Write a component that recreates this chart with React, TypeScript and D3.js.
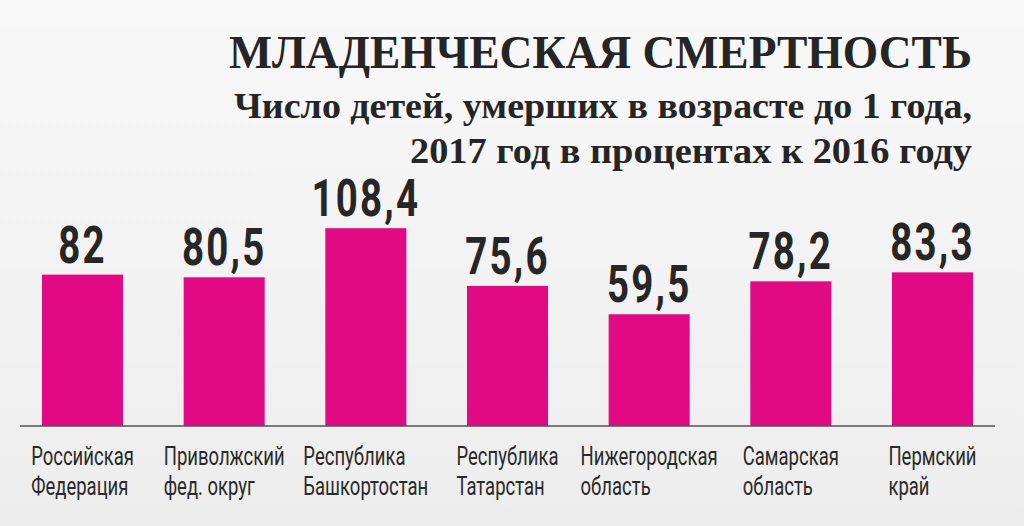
import { useRef, useEffect } from "react";
import * as d3 from "d3";

const regions = [
  ["Российская", "Федерация"],
  ["Приволжский", "фед. округ"],
  ["Республика", "Башкортостан"],
  ["Республика", "Татарстан"],
  ["Нижегородская", "область"],
  ["Самарская", "область"],
  ["Пермский", "край"],
];
const values = [82, 80.5, 108.4, 75.6, 59.5, 78.2, 83.3];
const valueLabels = ["82", "80,5", "108,4", "75,6", "59,5", "78,2", "83,3"];

const title = "МЛАДЕНЧЕСКАЯ СМЕРТНОСТЬ";
const subtitle = ["Число детей, умерших в возрасте до 1 года,", "2017 год в процентах к 2016 году"];

export default function App() {
  const ref = useRef<SVGSVGElement>(null);

  useEffect(() => {
    document.body.style.margin = "0";
    const W = 1024;
    const H = 526;
    const svg = d3.select(ref.current);
    svg.selectAll("*").remove();

    const defs = svg.append("defs");
    const grad = defs
      .append("linearGradient")
      .attr("id", "bg")
      .attr("x1", 0)
      .attr("y1", 0)
      .attr("x2", 0)
      .attr("y2", 1);
    grad.append("stop").attr("offset", "0%").attr("stop-color", "#f8f8f8");
    grad.append("stop").attr("offset", "100%").attr("stop-color", "#ededed");
    svg.append("rect").attr("width", W).attr("height", H).attr("fill", "url(#bg)");

    // headings, right aligned
    const heads = [
      { t: title, y: 68, size: 46, w: 743 },
      { t: subtitle[0], y: 118, size: 35, w: 738 },
      { t: subtitle[1], y: 163, size: 35, w: 562 },
    ];
    heads.forEach((h) => {
      svg
        .append("text")
        .attr("x", 972 - h.w)
        .attr("y", h.y)
        .attr("font-family", "'Liberation Serif', 'DejaVu Serif', serif")
        .attr("font-weight", 700)
        .attr("font-size", h.size)
        .attr("fill", "#252525")
        .attr("textLength", h.w)
        .attr("lengthAdjust", "spacingAndGlyphs")
        .text(h.t);
    });

    const baseline = 426;
    const x = d3
      .scaleBand<number>()
      .domain(d3.range(values.length))
      .range([42, 973])
      .paddingInner(0.428)
      .paddingOuter(0);
    const y = d3.scaleLinear().domain([-4, 110]).range([baseline, baseline - 1.76 * 114]);

    svg
      .append("g")
      .selectAll("rect")
      .data(values)
      .join("rect")
      .attr("x", (d, i) => x(i)!)
      .attr("y", (d) => y(d))
      .attr("width", x.bandwidth())
      .attr("height", (d) => baseline - y(d))
      .attr("fill", "#e20a84");

    svg
      .append("line")
      .attr("x1", 20)
      .attr("x2", 995)
      .attr("y1", baseline)
      .attr("y2", baseline)
      .attr("stroke", "#555")
      .attr("stroke-width", 1.5);

    // value labels, squeezed horizontally
    const sx = 0.74;
    values.forEach((v, i) => {
      const cx = x(i)! + x.bandwidth() / 2;
      svg
        .append("text")
        .attr("transform", `translate(${cx},${y(v) - 12}) scale(${sx},1)`)
        .attr("text-anchor", "middle")
        .attr("font-family", "Roboto, 'DejaVu Sans', sans-serif")
        .attr("font-weight", 700)
        .attr("font-size", 52)
        .attr("letter-spacing", 3)
        .attr("fill", "#262626")
        .text(valueLabels[i]);
    });

    // category labels: left-aligned block, centred under the bar
    const lx = 0.74;
    const fs = 25;
    const lineH = 30;
    regions.forEach((lines, i) => {
      const cx = x(i)! + x.bandwidth() / 2;
      const texts = lines.map((l) =>
        svg
          .append("text")
          .attr("font-family", "Roboto, 'DejaVu Sans', sans-serif")
          .attr("font-size", fs)
          .attr("fill", "#2a2a2a")
          .text(l)
      );
      const maxW = d3.max(texts, (t) => (t.node() as SVGTextElement).getComputedTextLength())! * lx;
      const left = cx - maxW / 2;
      texts.forEach((t, j) => {
        t.attr("transform", `translate(${left},${465 + j * lineH}) scale(${lx},1)`);
      });
    });
  }, []);

  return <svg ref={ref} width={1024} height={526} style={{ display: "block" }} />;
}
